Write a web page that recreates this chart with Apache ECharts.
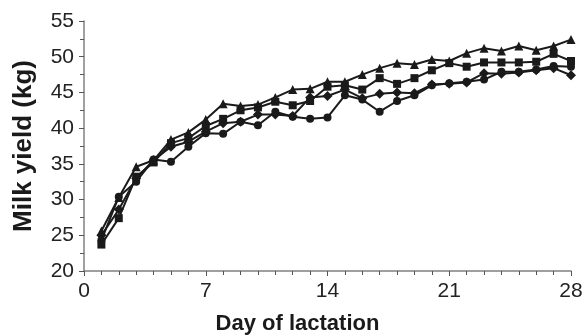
<!DOCTYPE html>
<html><head><meta charset="utf-8">
<script src="https://cdn.jsdelivr.net/npm/echarts@6/dist/echarts.min.js"></script>
<style>html,body{margin:0;padding:0;background:#fff}#c{width:588px;height:336px}</style>
</head><body><div id="c"></div>
<script>
const days = [1,2,3,4,5,6,7,8,9,10,11,12,13,14,15,16,17,18,19,20,21,22,23,24,25,26,27,28];
const xTicks = [0,7,14,21,28];
const yTicks = [20,25,30,35,40,45,50,55];
const triangleVals = [25.6,30.3,34.6,35.5,38.4,39.4,41.2,43.4,43.1,43.3,44.3,45.4,45.5,46.5,46.5,47.5,48.4,49.1,48.9,49.6,49.4,50.5,51.2,50.8,51.5,50.9,51.5,52.4];
const squareVals = [23.7,27.4,33.2,35.2,37.9,38.6,40.3,41.3,42.5,42.9,43.7,43.2,43.8,45.8,46.0,45.4,47.0,46.2,47.0,48.1,49.1,48.6,49.2,49.2,49.2,49.3,50.4,49.4];
const diamondVals = [25.0,28.6,33.0,35.5,37.4,38.1,39.5,40.7,40.9,41.9,41.9,41.7,44.3,44.5,45.4,44.2,44.8,45.0,44.9,46.1,46.2,46.4,47.7,47.6,47.8,48.1,48.4,47.4];
const circleVals = [24.3,30.4,32.5,35.6,35.3,37.4,39.3,39.2,40.9,40.4,42.3,41.6,41.3,41.5,44.6,44.0,42.3,43.8,44.6,46.0,46.3,46.5,46.8,47.9,47.9,48.2,48.7,48.6];

const chart = echarts.init(document.getElementById('c'));
const mk = (name, vals, symbol, size) => ({
  name, type: 'line', symbol, symbolSize: size,
  data: days.map((d, i) => [d, vals[i]]),
  lineStyle: { color: '#1a1a1a', width: 2 },
  itemStyle: { color: '#1a1a1a' },
  animation: false
});
chart.setOption({
  animation: false,
  grid: { left: 84, right: 17, top: 21, bottom: 65, containLabel: false, outerBoundsMode: 'none' },
  xAxis: {
    type: 'value', min: xTicks[0], max: xTicks[xTicks.length-1], interval: 7,
    name: 'Day of lactation', nameLocation: 'middle', nameGap: 42,
    nameTextStyle: { fontFamily: 'Liberation Sans', fontWeight: 'bold', fontSize: 22, color: '#1a1a1a', padding: [0, 60, 0, 0] },
    axisLine: { lineStyle: { color: '#808080', width: 1.5 } },
    axisTick: { length: 5, lineStyle: { color: '#555' } },
    minorTick: { show: true, splitNumber: 7, length: 4, lineStyle: { color: '#555' } },
    splitLine: { show: false },
    axisLabel: { fontFamily: 'Liberation Sans', fontSize: 21, color: '#222', margin: 10 }
  },
  yAxis: {
    type: 'value', min: yTicks[0], max: yTicks[yTicks.length-1], interval: 5,
    name: 'Milk yield (kg)', nameLocation: 'middle', nameGap: 47, nameRotate: 90,
    nameTextStyle: { fontFamily: 'Liberation Sans', fontWeight: 'bold', fontSize: 26, color: '#1a1a1a' },
    axisLine: { show: true, lineStyle: { color: '#808080', width: 1.5 } },
    axisTick: { show: true, length: 5, lineStyle: { color: '#555' } },
    minorTick: { show: true, splitNumber: 2, length: 4, lineStyle: { color: '#555' } },
    splitLine: { show: false },
    axisLabel: { fontFamily: 'Liberation Sans', fontSize: 21, color: '#222', margin: 10 }
  },
  series: [
    mk('Diamond', diamondVals, 'diamond', 10),
    mk('Circle', circleVals, 'circle', 8),
    mk('Square', squareVals, 'rect', 8),
    mk('Triangle', triangleVals, 'triangle', 9)
  ]
});
</script></body></html>
